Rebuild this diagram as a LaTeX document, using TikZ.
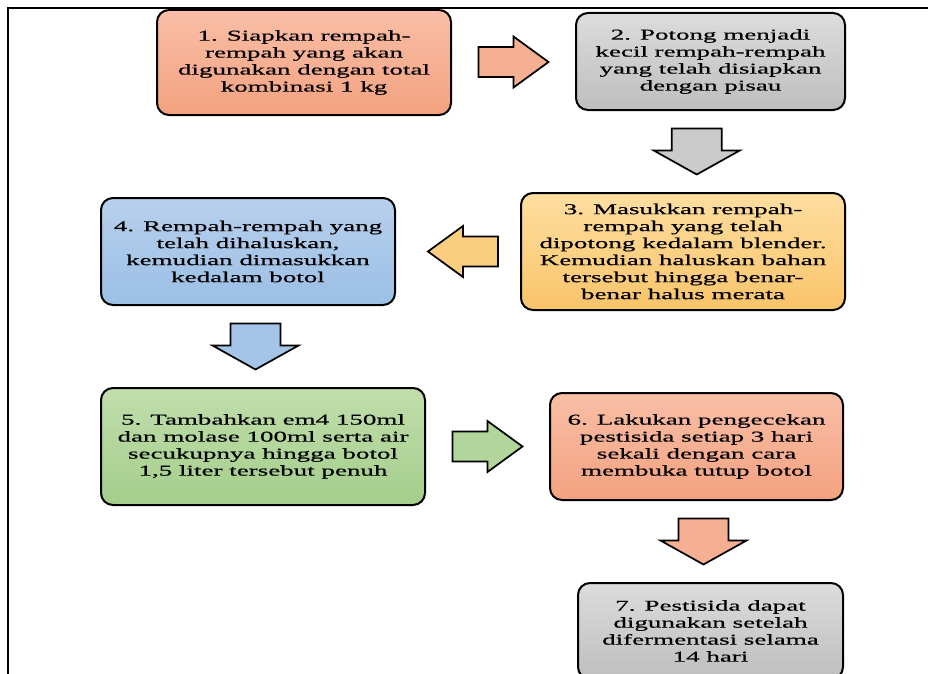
\documentclass[tikz,border=0pt]{standalone}
\usepackage{fontspec}
\setmainfont{Liberation Serif}[FakeStretch=1.8,FakeBold=0.6]
\usepackage{tikz}
\usetikzlibrary{calc,positioning}
\definecolor{salTop}{RGB}{249,190,166}
\definecolor{salBot}{RGB}{243,162,128}
\definecolor{grayTop}{RGB}{220,220,220}
\definecolor{grayBot}{RGB}{190,190,190}
\definecolor{yelTop}{RGB}{254,222,160}
\definecolor{yelBot}{RGB}{249,196,106}
\definecolor{bluTop}{RGB}{184,208,236}
\definecolor{bluBot}{RGB}{155,191,230}
\definecolor{grnTop}{RGB}{192,222,172}
\definecolor{grnBot}{RGB}{164,206,139}

\tikzset{
  stepbox/.style={draw=black, line width=1.5pt, rounded corners=9pt,
    align=center, inner sep=0pt,
    font={\fontsize{11.25}{12.75}\selectfont}},
  % block arrows, drawn in picture units (px)
  harr/.pic={\draw[line width=1.3pt, line join=miter, pic actions]
    (-35,-15) -- (0,-15) -- (0,-25.5) -- (35,0) -- (0,25.5) -- (0,15)
    -- (-35,15) -- cycle;},
  varr/.pic={\draw[line width=1.3pt, line join=miter, pic actions]
    (-25,-23) -- (25,-23) -- (25,-1) -- (43,-1) -- (0,23) -- (-43,-1)
    -- (-25,-1) -- cycle;},
}

\begin{document}
\begin{tikzpicture}[x=0.75pt, y=-0.75pt]
\useasboundingbox (0,0) rectangle (928,674);

%─── Frame ───────────────────────────────────────────────────────────────────
\draw[line width=1.5pt] (8,674) -- (8,8) -- (928,8);

%─── Steps ───────────────────────────────────────────────────────────────────
\node[stepbox, top color=salTop, bottom color=salBot,
      minimum width=220.5pt, minimum height=78.75pt] (s1) at (304,62.5)
  {1. Siapkan rempah-\\rempah yang akan\\digunakan dengan total\\kombinasi 1 kg};
\node[stepbox, top color=grayTop, bottom color=grayBot,
      minimum width=201.75pt, minimum height=72.75pt] (s2) at (710.5,61.5)
  {2. Potong menjadi\\kecil  rempah-rempah\\yang telah disiapkan\\dengan pisau};
\node[stepbox, top color=yelTop, bottom color=yelBot,
      minimum width=243pt, minimum height=87.75pt] (s3) at (683,251.5)
  {3. Masukkan rempah-\\rempah yang telah\\dipotong kedalam blender.\\Kemudian haluskan bahan\\tersebut hingga benar-\\benar halus merata};
\node[stepbox, top color=bluTop, bottom color=bluBot,
      minimum width=220.5pt, minimum height=80.25pt] (s4) at (248,251.5)
  {4. Rempah-rempah yang\\telah dihaluskan,\\kemudian dimasukkan\\kedalam botol};
\node[stepbox, top color=grnTop, bottom color=grnBot,
      minimum width=243pt, minimum height=87.75pt] (s5) at (263,446.5)
  {5. Tambahkan em4 150ml\\dan molase 100ml  serta air\\secukupnya hingga  botol\\1,5 liter  tersebut penuh};
\node[stepbox, top color=salTop, bottom color=salBot,
      minimum width=219.75pt, minimum height=80.25pt] (s6) at (696.5,446.5)
  {6. Lakukan pengecekan\\pestisida setiap 3 hari\\sekali  dengan cara\\membuka tutup botol};
\node[stepbox, top color=grayTop, bottom color=grayBot,
      minimum width=198.75pt, minimum height=72pt] (s7) at (710.5,631)
  {7. Pestisida dapat\\digunakan setelah\\difermentasi selama\\14 hari};

%─── Block arrows ────────────────────────────────────────────────────────────
\pic[fill=salBot!85!white] (a12) at ($(s1.east)!0.5!(s2.west)$) {harr};
\pic[fill=grayBot!80!white] (a23) at ($(s2.south)!0.5!(s3.north)$) {varr};
\pic[fill=yelBot!85!white, rotate=180] (a34) at ($(s3.west)!0.46!(s4.east)$) {harr};
\pic[fill=bluBot!90!white] (a45) at ($(s4.south)!0.5!(s5.north)$) {varr};
\pic[fill=grnBot!85!white] (a56) at ($(s5.east)!0.5!(s6.west)$) {harr};
\pic[fill=salBot!85!white] (a67) at ($(s6.south)!0.5!(s7.north)$) {varr};

\end{tikzpicture}
\end{document}
